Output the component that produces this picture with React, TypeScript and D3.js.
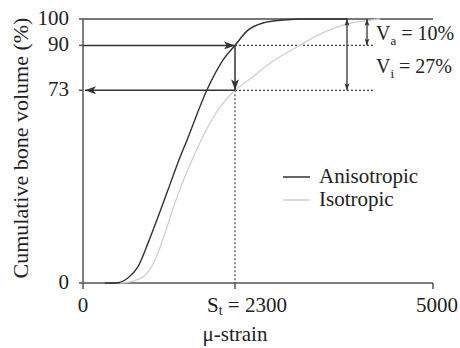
import React, { useEffect, useRef } from 'react'
import * as d3 from 'd3'

// cumulative bone volume (%) vs micro-strain
const strainAniso = [330, 485, 680, 830, 985, 1135, 1285, 1435, 1575, 1875, 2120, 2300, 2465, 2680, 2955, 3280, 3830]
const volAniso = [0, 0, 1.9, 6.1, 15.2, 25, 35.2, 45.5, 54.2, 73.1, 84.5, 90, 95.5, 98.5, 99.6, 100, 100]

const strainIso = [560, 710, 940, 1090, 1240, 1390, 1650, 2075, 2300, 2505, 2820, 3145, 3460, 3775, 4045, 4280]
const volIso = [0, 0.4, 3, 8.7, 18.9, 30.3, 46.6, 66.7, 73, 77.3, 84.1, 89.4, 94.3, 97.7, 99.2, 100]

const yTicks = [0, 73, 90, 100]
const xTicks = [0, 2300, 5000]
const threshold = 2300
const volAtThresholdAniso = 90
const volAtThresholdIso = 73
const legendItems = [
    { label: 'Anisotropic', color: '#333' },
    { label: 'Isotropic', color: '#cfcfcf' },
]

const W = 460
const H = 348
const FONT = '"Liberation Serif", "Times New Roman", serif'

function CumulativeChart() {
    const ref = useRef<SVGSVGElement | null>(null)

    useEffect(() => {
        const svg = d3.select(ref.current)
        svg.selectAll('*').remove()

        // the original axis is not to scale, so a piecewise scale keeps the St tick where it was drawn
        const x = d3.scaleLinear().domain([0, 2300, 5000]).range([83, 235, 433])
        const y = d3.scaleLinear().domain([0, 100]).range([283, 19])

        const defs = svg.append('defs')
        const mk = (id: string, w: number, h: number) => {
            defs.append('marker')
                .attr('id', id)
                .attr('viewBox', `0 0 ${w} ${h}`)
                .attr('refX', w).attr('refY', h / 2)
                .attr('markerWidth', w).attr('markerHeight', h)
                .attr('markerUnits', 'userSpaceOnUse')
                .attr('orient', 'auto-start-reverse')
                .append('path')
                .attr('d', `M0,0 L${w},${h / 2} L0,${h} L${w * 0.25},${h / 2} Z`)
                .attr('fill', '#333')
        }
        mk('big', 11, 8)
        mk('small', 7, 5)

        const g = svg.append('g').style('font-family', FONT)

        // axes
        g.append('line').attr('x1', x(0)).attr('x2', x(0)).attr('y1', y(100)).attr('y2', y(0))
            .attr('stroke', '#555').attr('stroke-width', 1.5)
        g.append('line').attr('x1', x(0)).attr('x2', x(5000)).attr('y1', y(0)).attr('y2', y(0))
            .attr('stroke', '#555').attr('stroke-width', 1.5)
        g.append('line').attr('x1', x(0)).attr('x2', x(5000)).attr('y1', y(100)).attr('y2', y(100))
            .attr('stroke', '#777').attr('stroke-width', 2)

        g.selectAll('.xt').data(xTicks).join('line')
            .attr('x1', d => x(d)).attr('x2', d => x(d)).attr('y1', y(0)).attr('y2', y(0) + 6)
            .attr('stroke', '#555').attr('stroke-width', 1.5)
        g.selectAll('.yt').data(yTicks).join('line')
            .attr('x1', x(0) - 4).attr('x2', x(0)).attr('y1', d => y(d)).attr('y2', d => y(d))
            .attr('stroke', '#555').attr('stroke-width', 1.5)

        g.selectAll('.yl').data(yTicks).join('text')
            .attr('x', 69).attr('y', d => y(d) + 6)
            .attr('text-anchor', 'end')
            .attr('font-size', 21).attr('fill', '#222')
            .text(d => d)

        g.append('text').attr('x', x(0)).attr('y', 312).attr('text-anchor', 'middle')
            .attr('font-size', 21).attr('fill', '#222').text('0')
        g.append('text').attr('x', x(5000) + 4).attr('y', 312).attr('text-anchor', 'middle')
            .attr('font-size', 21).attr('fill', '#222').text('5000')
        const st = g.append('text').attr('x', x(threshold) - 28).attr('y', 312)
            .attr('font-size', 21).attr('fill', '#222')
        st.append('tspan').text('S')
        st.append('tspan').attr('font-size', 14).attr('dy', 3).text('t')
        st.append('tspan').attr('dy', -3).text(' = 2300')

        g.append('text').attr('x', x(threshold)).attr('y', 341).attr('text-anchor', 'middle')
            .attr('font-size', 21).attr('fill', '#222').text('μ-strain')
        g.append('text')
            .attr('transform', 'translate(28,148) rotate(-90)')
            .attr('text-anchor', 'middle')
            .attr('font-size', 22).attr('fill', '#222')
            .text('Cumulative bone volume (%)')

        // dotted guides
        const dotted = [
            [x(threshold), y(volAtThresholdAniso), 373, y(volAtThresholdAniso)],
            [x(threshold), y(volAtThresholdIso), 373, y(volAtThresholdIso)],
            [x(threshold), y(volAtThresholdIso), x(threshold), y(0)],
        ]
        g.selectAll('.dot').data(dotted).join('line')
            .attr('x1', d => d[0]).attr('y1', d => d[1]).attr('x2', d => d[2]).attr('y2', d => d[3])
            .attr('stroke', '#444').attr('stroke-width', 1.2).attr('stroke-dasharray', '2,2')

        // curves
        const line = d3.line<[number, number]>()
            .x(d => x(d[0])).y(d => y(d[1]))
            .curve(d3.curveMonotoneX)
        g.append('path').datum(d3.zip(strainIso, volIso) as [number, number][])
            .attr('d', line).attr('fill', 'none').attr('stroke', '#cfcfcf').attr('stroke-width', 1.3)
        g.append('path').datum(d3.zip(strainAniso, volAniso) as [number, number][])
            .attr('d', line).attr('fill', 'none').attr('stroke', '#333').attr('stroke-width', 1.4)

        // reading arrows
        const arrow = (x1: number, y1: number, x2: number, y2: number) =>
            g.append('line').attr('x1', x1).attr('y1', y1).attr('x2', x2).attr('y2', y2)
                .attr('stroke', '#333').attr('stroke-width', 1.5).attr('marker-end', 'url(#big)')
        arrow(x(0), y(volAtThresholdAniso), x(threshold), y(volAtThresholdAniso))
        arrow(x(threshold), y(volAtThresholdAniso), x(threshold), y(volAtThresholdIso))
        arrow(x(threshold), y(volAtThresholdIso), x(0) + 2, y(volAtThresholdIso))

        // difference arrows
        const dbl = (xp: number, v: number) =>
            g.append('line').attr('x1', xp).attr('y1', y(100)).attr('x2', xp).attr('y2', y(v))
                .attr('stroke', '#333').attr('stroke-width', 1.3)
                .attr('marker-start', 'url(#small)').attr('marker-end', 'url(#small)')
        dbl(367, volAtThresholdAniso)
        dbl(347, volAtThresholdIso)

        const note = (yy: number, sub: string, val: string) => {
            const t = g.append('text').attr('x', 376).attr('y', yy)
                .attr('font-size', 20).attr('fill', '#222')
            t.append('tspan').text('V')
            t.append('tspan').attr('font-size', 13).attr('dy', 5).text(sub)
            t.append('tspan').attr('dy', -5).text(` = ${val}`)
        }
        note(40, 'a', '10%')
        note(73, 'i', '27%')

        // legend
        const lg = g.selectAll('.lg').data(legendItems).join('g')
            .attr('transform', (d, i) => `translate(283,${177 + i * 23})`)
        lg.append('line').attr('x1', 0).attr('x2', 27).attr('y1', 0).attr('y2', 0)
            .attr('stroke', d => d.color).attr('stroke-width', 1.5)
        lg.append('text').attr('x', 36).attr('y', 6)
            .attr('font-size', 21).attr('fill', '#222')
            .text(d => d.label)
    }, [])

    return <svg ref={ref} width={W} height={H} style={{ position: 'absolute', left: 0, top: 0, background: '#fff' }} />
}

export default function App() {
    return <CumulativeChart />
}
